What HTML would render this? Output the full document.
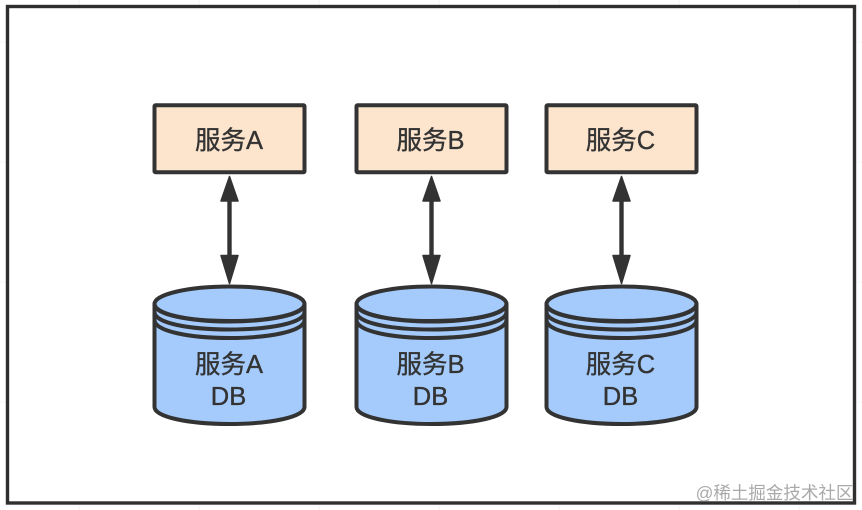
<!DOCTYPE html>
<html>
<head>
<meta charset="utf-8">
<style>
html,body{margin:0;padding:0;background:#fff;}
svg{display:block;}
text{font-family:"Liberation Sans","Noto Sans CJK SC",sans-serif;fill:#333;text-anchor:middle;}
.t text{stroke:#333;stroke-width:.35px;}
</style>
</head>
<body>
<svg width="862" height="510" viewBox="0 0 862 510" xmlns="http://www.w3.org/2000/svg">
<defs>
<g id="col" stroke="#333" stroke-width="4" stroke-linejoin="round">
  <rect x="-75" y="105.300" width="150" height="67" rx="1" fill="#fde5cd"/>
  <path d="M-2.200 200H2.200V258H-2.200Z" fill="#333" stroke="none"/>
  <path d="M0 176.500L-8.500 201H8.500Z" fill="#333" stroke-width="1.500"/>
  <path d="M0 283.500L-8.500 255.500H8.500Z" fill="#333" stroke-width="1.500"/>
  <path d="M-75 304V407C-75 417 -41 424 0 424C41 424 75 417 75 407V304Z" fill="#a4cbfb"/>
  <ellipse cx="0" cy="304" rx="75" ry="17.500" fill="#a4cbfb"/>
  <path d="M-75 304C-75 315 -41 321 0 321C41 321 75 315 75 304" fill="none"/>
  <path d="M-75 312C-75 323 -41 329.500 0 329.500C41 329.500 75 323 75 312" fill="none"/>
  <path d="M-75 320C-75 331 -41 338 0 338C41 338 75 331 75 320" fill="none"/>
</g>
</defs>
<g stroke="#f3f3f3" stroke-width="1">
  <path d="M0 42H6M0 162H6M0 282H6M0 402H6M856 42H862M856 162H862M856 282H862M856 402H862"/>
  <path d="M79 0V5M199 0V5M319 0V5M439 0V5M559 0V5M679 0V5M799 0V5M79 505V510M199 505V510M319 505V510M439 505V510M559 505V510M679 505V510M799 505V510"/>
</g>
<rect x="7.500" y="6.500" width="847" height="496.500" fill="#fff" stroke="#2f2f2f" stroke-width="3.400"/>
<use href="#col" x="229.500" y="0"/>
<use href="#col" x="431.500" y="0"/>
<use href="#col" x="621.500" y="0"/>
<g font-size="25.500" class="t">
  <text x="229" y="149">服务A</text>
  <text x="430.500" y="149">服务B</text>
  <text x="620.500" y="149">服务C</text>
  <text x="229" y="373">服务A</text>
  <text x="430.500" y="373">服务B</text>
  <text x="620.500" y="373">服务C</text>
  <text x="228.500" y="405">DB</text>
  <text x="430.500" y="405">DB</text>
  <text x="620.500" y="405">DB</text>
</g>
<text x="774.500" y="499" font-size="17.500" style="fill:#9a9a9a;fill-opacity:.85">@稀土掘金技术社区</text>
</svg>
</body>
</html>
